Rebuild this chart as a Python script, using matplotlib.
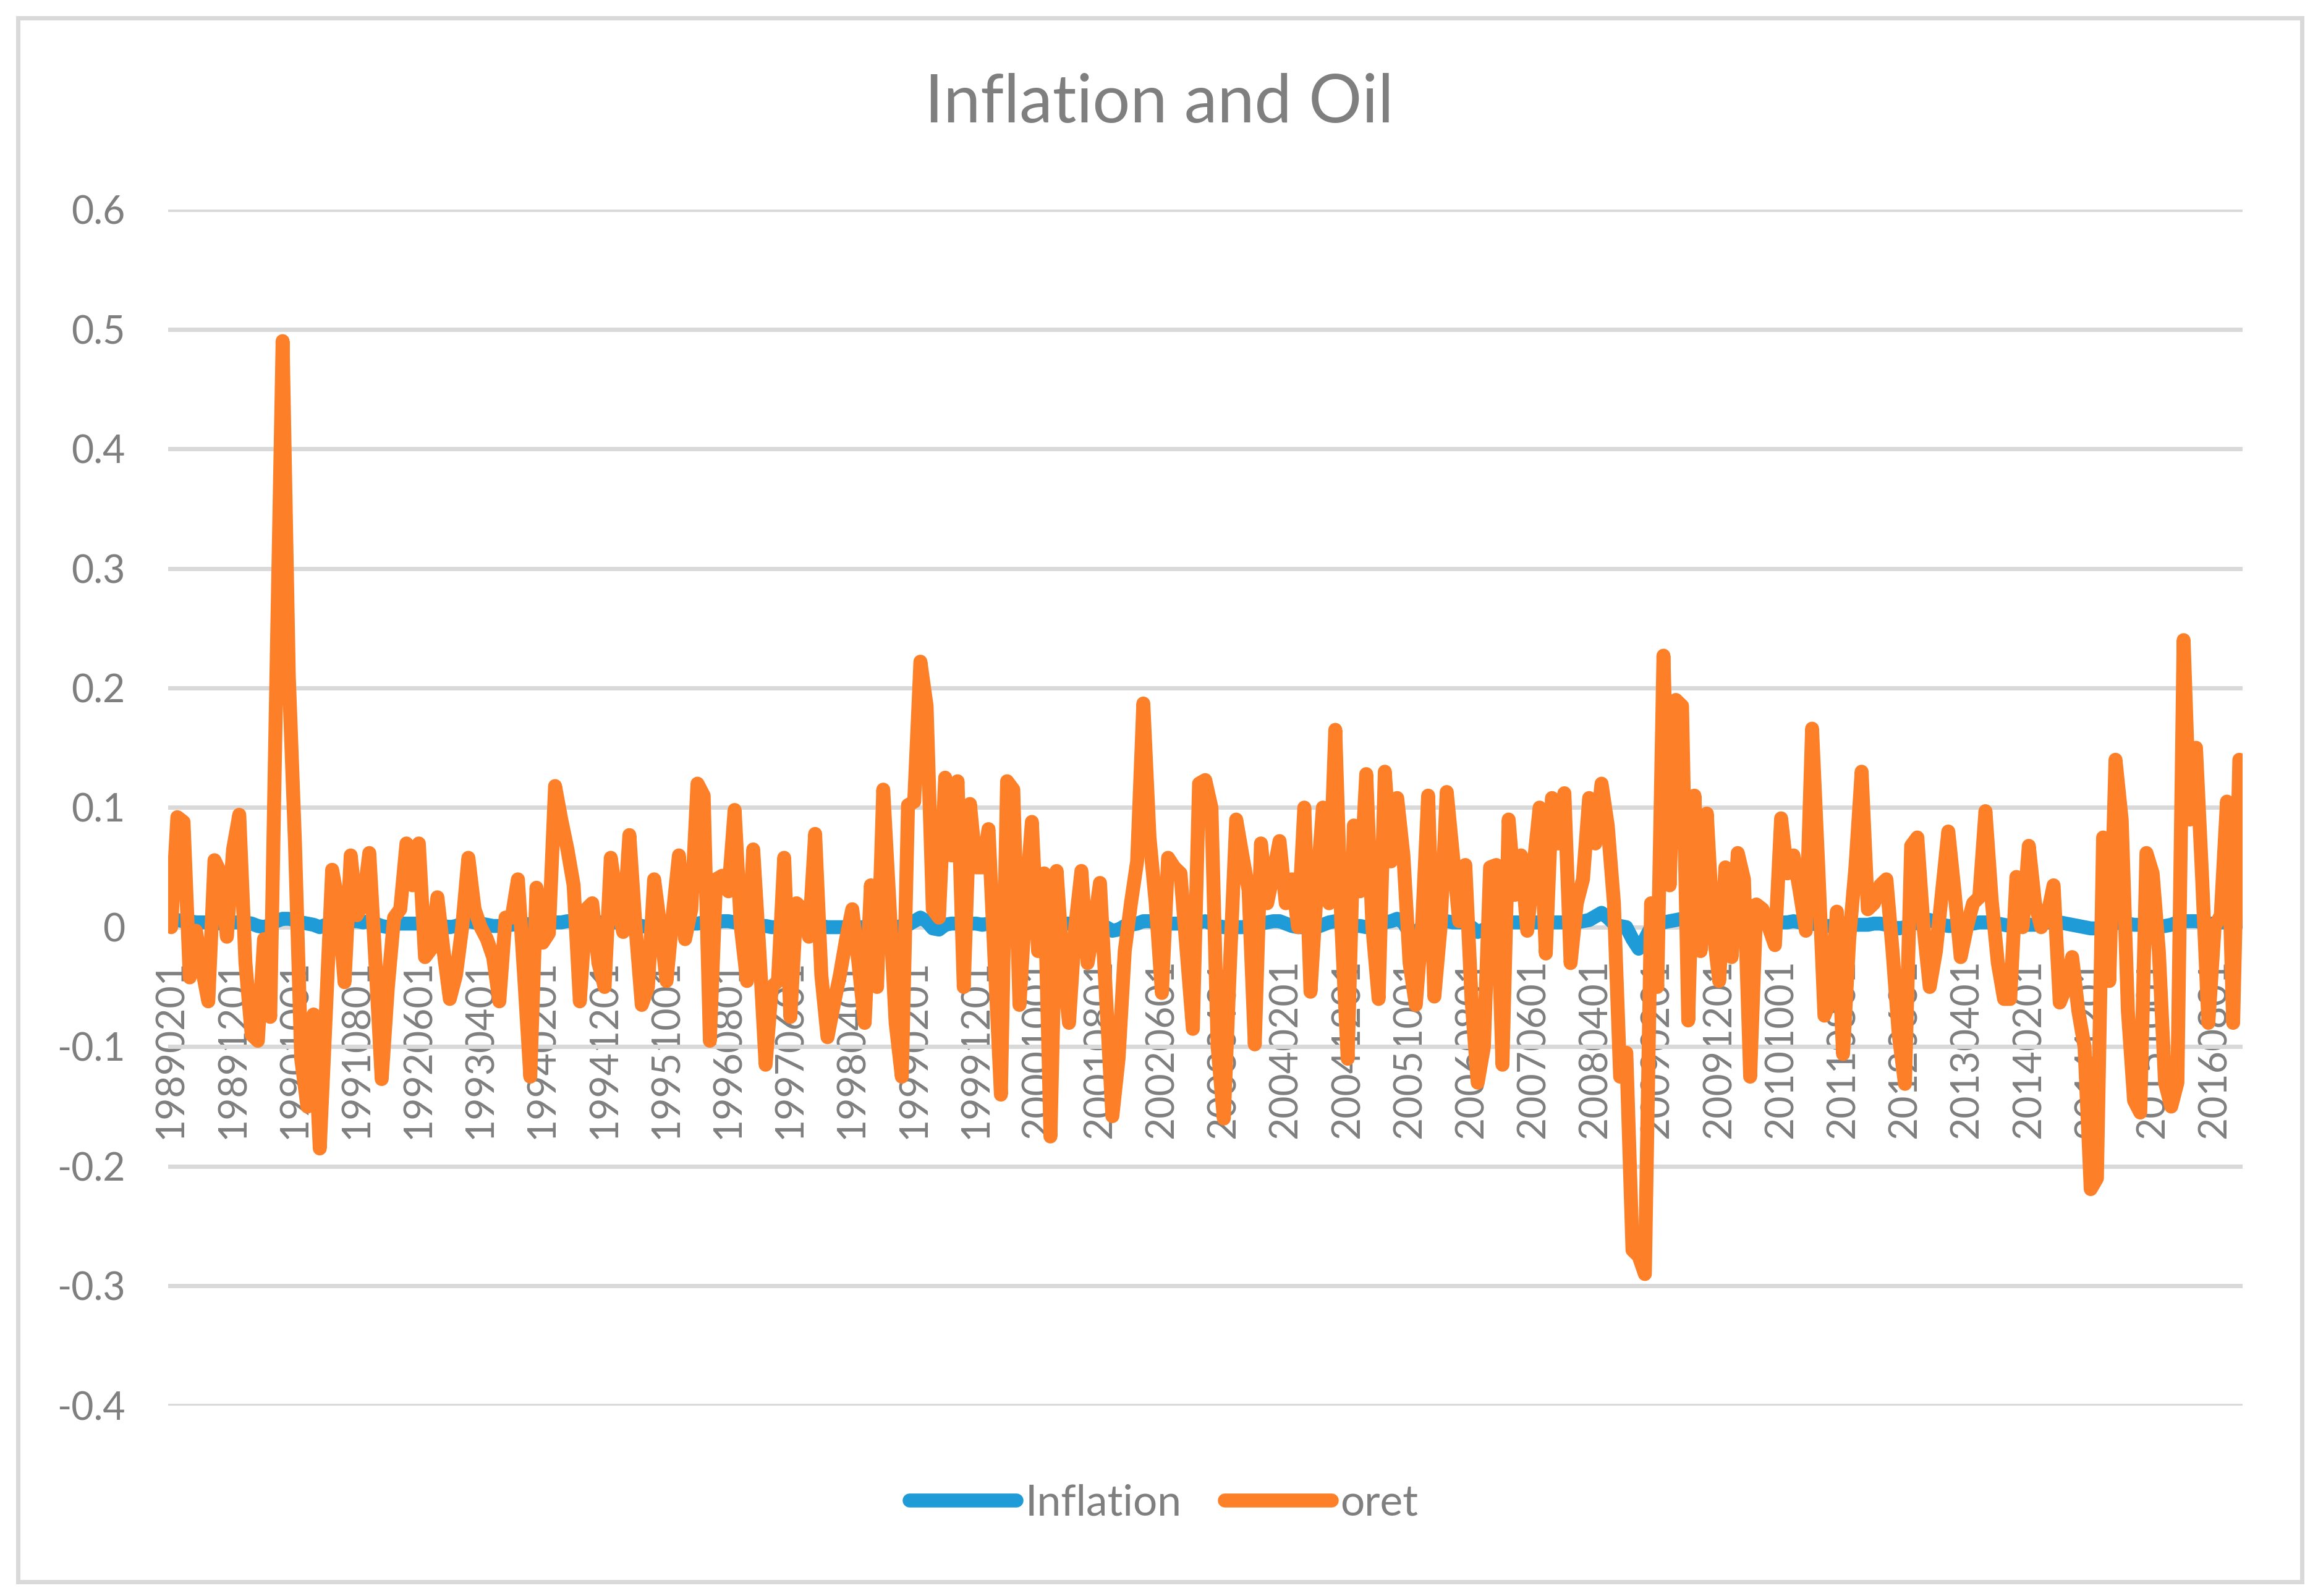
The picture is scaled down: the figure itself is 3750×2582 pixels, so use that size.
import numpy as np
import matplotlib
matplotlib.use("Agg")
import matplotlib.pyplot as plt
from matplotlib.patches import Rectangle

plt.rcParams['font.family'] = ['Lato', 'DejaVu Sans']

# monthly series, Feb 1989 .. Dec 2016 (335 months)
inflation = [
    0.005, 0.006, 0.005, 0.005, 0.004, 0.004, 0.004, 0.004, 0.003, 0.003,
    0.004, 0.004, 0.004, 0.003, 0.001, 0.000, 0.002, 0.005, 0.007, 0.007,
    0.006, 0.004, 0.003, 0.002, 0.000, 0.002, 0.004, 0.005, 0.005, 0.005,
    0.005, 0.004, 0.005, 0.003, 0.001, 0.000, 0.002, 0.003, 0.003, 0.003,
    0.003, 0.003, 0.003, 0.002, 0.001, 0.000, 0.001, 0.003, 0.005, 0.004,
    0.003, 0.002, 0.001, 0.001, 0.002, 0.002, 0.003, 0.003, 0.002, 0.002,
    0.003, 0.003, 0.004, 0.004, 0.005, 0.005, 0.004, 0.003, 0.003, 0.004,
    0.004, 0.004, 0.004, 0.004, 0.003, 0.002, 0.001, 0.000, 0.002, 0.003,
    0.003, 0.002, 0.002, 0.003, 0.003, 0.003, 0.004, 0.004, 0.004, 0.005,
    0.005, 0.004, 0.003, 0.002, 0.002, 0.001, 0.001, 0.000, 0.000, 0.000,
    0.000, 0.001, 0.001, 0.000, 0.000, 0.001, 0.000, 0.000, 0.000, 0.000,
    0.000, 0.000, 0.000, 0.001, 0.001, 0.000, 0.000, 0.000, 0.001, 0.002,
    0.005, 0.008, 0.005, -0.001, -0.002, 0.002, 0.003, 0.003, 0.003, 0.003,
    0.003, 0.002, 0.003, 0.003, 0.004, 0.004, 0.005, 0.005, 0.004, 0.004,
    0.004, 0.004, 0.003, 0.003, 0.003, 0.003, 0.003, 0.003, 0.003, 0.002,
    0.001, 0.000, -0.003, -0.002, 0.001, 0.002, 0.003, 0.005, 0.005, 0.004,
    0.003, 0.003, 0.003, 0.003, 0.002, 0.003, 0.004, 0.005, 0.003, 0.001,
    0.000, 0.000, 0.000, 0.000, 0.001, 0.002, 0.003, 0.004, 0.005, 0.005,
    0.003, 0.001, 0.000, 0.000, 0.000, 0.000, 0.002, 0.004, 0.005, 0.003,
    0.001, 0.001, 0.001, 0.000, 0.002, 0.003, 0.004, 0.005, 0.007, 0.004,
    -0.005, -0.004, 0.000, 0.002, 0.004, 0.005, 0.005, 0.004, 0.004, 0.004,
    0.000, -0.004, -0.002, 0.001, 0.003, 0.004, 0.004, 0.004, 0.004, 0.003,
    0.004, 0.004, 0.003, 0.004, 0.004, 0.004, 0.003, 0.004, 0.005, 0.006,
    0.009, 0.012, 0.008, 0.003, 0.001, 0.000, -0.010, -0.018, -0.010, 0.000,
    0.003, 0.004, 0.005, 0.006, 0.007, 0.006, 0.004, 0.003, 0.004, 0.004,
    0.004, 0.004, 0.004, 0.004, 0.004, 0.004, 0.004, 0.005, 0.005, 0.004,
    0.004, 0.004, 0.005, 0.004, 0.003, 0.003, 0.002, 0.001, 0.001, 0.002,
    0.003, 0.003, 0.002, 0.002, 0.002, 0.003, 0.003, 0.002, 0.000, -0.001,
    0.000, 0.002, 0.004, 0.006, 0.006, 0.004, 0.002, 0.001, 0.001, 0.002,
    0.003, 0.003, 0.004, 0.004, 0.004, 0.003, 0.002, 0.001, 0.001, 0.002,
    0.002, 0.002, 0.003, 0.004, 0.004, 0.004, 0.003, 0.002, 0.001, 0.000,
    -0.001, -0.001, 0.000, 0.002, 0.004, 0.003, 0.003, 0.002, 0.002, 0.002,
    0.001, 0.000, 0.001, 0.002, 0.004, 0.005, 0.005, 0.005, 0.004, 0.003,
    0.003, 0.004, 0.004, 0.004, 0.004,
]

oret = [
    0.000, 0.092, 0.088, -0.042, -0.003, -0.035, -0.062, 0.056, 0.045, -0.008,
    0.065, 0.094, -0.030, -0.090, -0.095, -0.010, -0.075, 0.210, 0.490, 0.210,
    0.070, -0.110, -0.150, -0.073, -0.185, -0.070, 0.048, 0.020, -0.046, 0.060,
    0.010, 0.020, 0.062, -0.030, -0.127, -0.050, 0.008, 0.015, 0.070, 0.035,
    0.070, -0.025, -0.018, 0.025, -0.020, -0.060, -0.040, 0.000, 0.058, 0.015,
    0.000, -0.010, -0.025, -0.062, 0.008, 0.008, 0.040, -0.040, -0.125, 0.033,
    -0.013, -0.005, 0.118, 0.090, 0.065, 0.035, -0.062, 0.015, 0.020, -0.030,
    -0.050, 0.058, 0.020, -0.004, 0.077, 0.000, -0.065, -0.050, 0.040, 0.000,
    -0.045, 0.010, 0.060, -0.010, 0.015, 0.120, 0.110, -0.095, 0.040, 0.043,
    0.030, 0.098, 0.000, -0.045, 0.065, -0.020, -0.115, -0.050, -0.045, 0.058,
    -0.075, 0.020, 0.015, -0.008, 0.078, -0.040, -0.092, -0.065, -0.040, -0.010,
    0.015, -0.030, -0.080, 0.035, -0.050, 0.115, 0.020, -0.080, -0.125, 0.102,
    0.105, 0.222, 0.185, 0.015, 0.008, 0.125, 0.060, 0.122, -0.050, 0.103,
    0.050, 0.050, 0.082, -0.030, -0.140, 0.122, 0.115, -0.065, 0.020, 0.088,
    -0.020, 0.045, -0.175, 0.047, -0.030, -0.080, 0.000, 0.047, -0.030, 0.000,
    0.037, -0.060, -0.158, -0.110, -0.020, 0.020, 0.055, 0.187, 0.075, 0.020,
    -0.055, 0.058, 0.050, 0.045, -0.020, -0.085, 0.120, 0.123, 0.100, -0.100,
    -0.160, -0.030, 0.090, 0.060, 0.031, -0.098, 0.070, 0.020, 0.045, 0.072,
    0.020, 0.040, 0.000, 0.100, -0.054, 0.030, 0.100, 0.020, 0.165, 0.000,
    -0.110, 0.085, 0.030, 0.128, 0.000, -0.060, 0.130, 0.055, 0.108, 0.060,
    -0.030, -0.065, 0.000, 0.110, -0.058, 0.000, 0.113, 0.060, 0.005, 0.052,
    -0.060, -0.130, -0.100, 0.050, 0.052, -0.115, 0.090, 0.027, 0.060, -0.003,
    0.050, 0.100, -0.022, 0.108, 0.070, 0.112, -0.030, 0.020, 0.040, 0.108,
    0.070, 0.120, 0.085, 0.020, -0.125, -0.105, -0.270, -0.275, -0.290, 0.020,
    -0.050, 0.227, 0.035, 0.190, 0.185, -0.078, 0.110, -0.020, 0.095, 0.000,
    -0.045, 0.050, -0.025, 0.062, 0.040, -0.125, 0.019, 0.015, 0.000, -0.015,
    0.091, 0.045, 0.060, 0.030, -0.003, 0.166, 0.050, -0.074, -0.060, 0.013,
    -0.106, -0.010, 0.050, 0.130, 0.015, 0.020, 0.035, 0.040, -0.020, -0.090,
    -0.131, 0.068, 0.075, 0.000, -0.050, -0.020, 0.030, 0.080, 0.030, -0.025,
    0.000, 0.020, 0.025, 0.097, 0.023, -0.030, -0.060, -0.060, 0.042, 0.000,
    0.068, 0.020, 0.000, 0.010, 0.035, -0.063, -0.050, -0.025, -0.070, -0.100,
    -0.219, -0.210, 0.075, -0.045, 0.140, 0.090, -0.070, -0.145, -0.155, 0.062,
    0.045, -0.020, -0.130, -0.150, -0.130, 0.240, 0.090, 0.150, 0.040, -0.080,
    0.000, 0.010, 0.105, -0.080, 0.140,
]

# every tenth month gets a label
tick_labels = [
    "19890201", "19891201", "19901001", "19910801", "19920601", "19930401",
    "19940201", "19941201", "19951001", "19960801", "19970601", "19980401",
    "19990201", "19991201", "20001001", "20010801", "20020601", "20030401",
    "20040201", "20041201", "20051001", "20060801", "20070601", "20080401",
    "20090201", "20091201", "20101001", "20110801", "20120601", "20130401",
    "20140201", "20141201", "20151001", "20160801",
]
ytick_values = [-0.4, -0.3, -0.2, -0.1, 0.0, 0.1, 0.2, 0.3, 0.4, 0.5, 0.6]
ytick_labels = ["-0.4", "-0.3", "-0.2", "-0.1", "0", "0.1", "0.2", "0.3", "0.4", "0.5", "0.6"]

gray = "#7F7F7F"
grid_col = "#D9D9D9"
blue = "#1F9BD7"
orange = "#FD7F28"

x = np.arange(len(oret))

fig = plt.figure(figsize=(15, 10.328), dpi=250)
ax = fig.add_axes([0.0725, 0.1193, 0.8949, 0.7494])

ax.plot(x, inflation, color=blue, lw=6.5, solid_joinstyle="round",
        solid_capstyle="round", label="Inflation")
ax.plot(x, oret, color=orange, lw=6.5, solid_joinstyle="round",
        solid_capstyle="round", label="oret")

ax.set_xlim(-0.5, len(oret) - 0.5)
ax.set_ylim(-0.4, 0.6)

for s in ax.spines.values():
    s.set_visible(False)
# category axis crosses at zero
ax.spines["bottom"].set_position(("data", 0))

ax.set_yticks(ytick_values)
ax.set_yticklabels(ytick_labels)
ax.set_xticks(x[::10])
ax.set_xticklabels(tick_labels)

ax.tick_params(axis="y", length=0, pad=20, labelsize=18, labelcolor=gray)
ax.tick_params(axis="x", length=0, pad=15, labelsize=18, labelcolor=gray,
               labelrotation=90)

ax.yaxis.grid(True, color=grid_col, lw=2)
ax.set_axisbelow(True)

fig.text(0.5, 0.935, "Inflation and Oil", ha="center", va="center",
         fontsize=31, color=gray)

fig.legend(loc="center", bbox_to_anchor=(0.502, 0.058), ncol=2, frameon=False,
           fontsize=20, labelcolor=gray, handlelength=2.5, handletextpad=0.2,
           columnspacing=1.0)

# chart area border
fig.add_artist(Rectangle((29 / 3750, 1 - 2559 / 2582), (3724 - 29) / 3750,
                         (2559 - 29) / 2582, transform=fig.transFigure,
                         fill=False, ec=grid_col, lw=2))

fig.savefig("out.png", dpi=250, facecolor="white")
